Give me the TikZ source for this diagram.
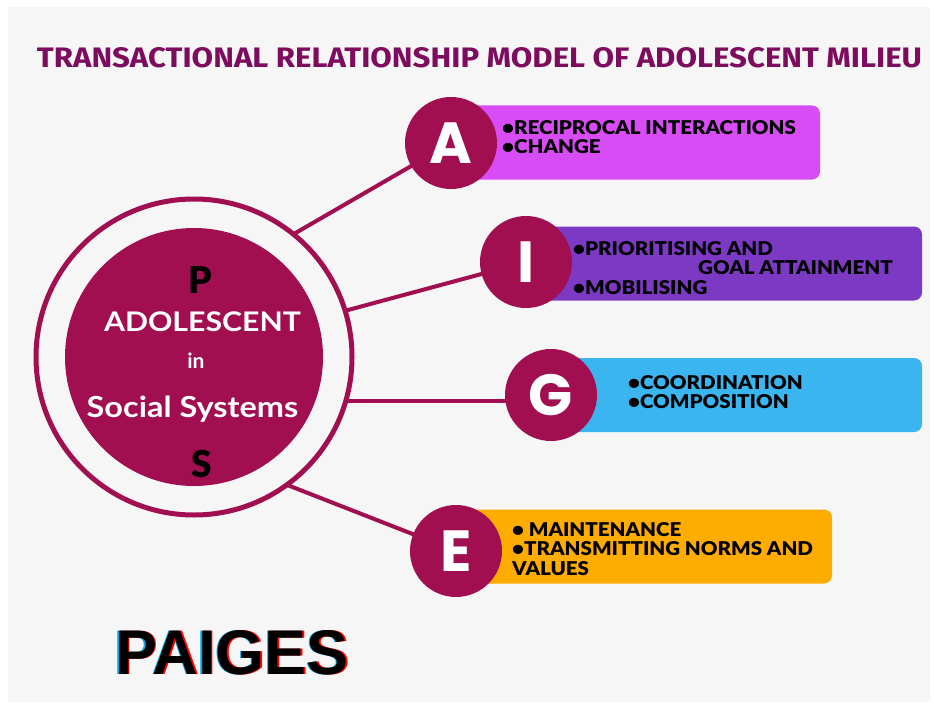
\documentclass[tikz,border=0pt]{standalone}
\usepackage{fontspec}
\usepackage{graphicx}
\setmainfont{Lato}
\newfontfamily\heavyfont{Lato Black}
\newfontfamily\itemfont{Lato Black}[FakeStretch=1.08]
\newfontfamily\headfont{Fira Sans}
\newfontfamily\letterfont{Poppins}
\newfontfamily\brandfont{Liberation Sans}
\usetikzlibrary{positioning,calc}

\definecolor{berry}{HTML}{A10F50}
\definecolor{plum}{HTML}{7E0C5E}
\definecolor{paper}{HTML}{F6F6F6}
\definecolor{adaptFill}{HTML}{D84CF5}
\definecolor{integFill}{HTML}{7C3AC4}
\definecolor{goalFill}{HTML}{3AB5EF}
\definecolor{maintFill}{HTML}{FFAC00}

\begin{document}
\begin{tikzpicture}[x=1pt,y=-1pt,
    sat/.style={circle, fill=berry, minimum size=92pt, inner sep=0pt, outer sep=0pt,
        text=white, font=\letterfont\bfseries\fontsize{58}{58}\selectfont},
    band/.style={rounded corners=8pt, minimum height=74pt, anchor=west, inner sep=0pt, outer sep=0pt},
    item/.style={anchor=north west, align=left, inner sep=0pt, font=\itemfont\fontsize{19}{19.5}\selectfont},
    link/.style={berry, line width=4pt},
    brand/.style={font=\brandfont\bfseries\fontsize{63}{63}\selectfont}]

    % page and grey sheet
    \fill[white] (0,0) rectangle (934,706);
    \fill[paper] (8,7) rectangle (930,702);

    % heading
    \node[text=plum, font=\headfont\bfseries, inner sep=0pt] (title) at (479.5,58)
        {\resizebox{885pt}{20pt}{TRANSACTIONAL RELATIONSHIP MODEL OF ADOLESCENT MILIEU}};

    % centres of the four satellites
    \coordinate (ac) at (451,143);
    \coordinate (ic) at (526,262);
    \coordinate (gc) at (551,395);
    \coordinate (ec) at (456,551);

    % coloured bands behind the satellites
    \node[band, fill=adaptFill, minimum width=369pt] (aBox) at ($(ac)+(0,-0.5)$) {};
    \node[band, fill=integFill, minimum width=396pt] (iBox) at ($(ic)+(0,1.5)$) {};
    \node[band, fill=goalFill, minimum width=371pt] (gBox) at (gc) {};
    \node[band, fill=maintFill, minimum width=376pt] (eBox) at ($(ec)+(0,-4.5)$) {};

    % the adolescent in the middle
    \node[circle, draw=berry, line width=5pt, minimum size=316pt, inner sep=0pt, outer sep=0pt] (ring) at (194,357) {};
    \node[circle, fill=berry, minimum size=258pt, inner sep=0pt] (core) at (194,357) {};
    \node[font=\heavyfont\fontsize{37}{37}\selectfont, anchor=base] (pLetter) at (200,293) {P};
    \node[text=white, font=\bfseries\fontsize{27}{27}\selectfont, anchor=base] (adol) at (202.5,331) {\scalebox{1.12}[1]{ADOLESCENT}};
    \node[text=white, font=\bfseries\fontsize{21}{21}\selectfont, anchor=base] (inWord) at (196,368) {in};
    \node[text=white, font=\bfseries\fontsize{29}{29}\selectfont, anchor=base] (social) at (192.5,417) {\scalebox{1.12}[1]{Social Systems}};
    \node[font=\heavyfont\fontsize{37}{37}\selectfont, anchor=base] (sLetter) at (202,477) {S};

    % spokes
    \draw[link] (ring.51) -- (ac);
    \draw[link] (ring.17) -- (ic);
    \draw[link] (ring.-16) -- (ring.-16 -| gc);
    \draw[link] (ring.-54) -- (ec);

    % satellites
    \node[sat] (a) at (ac) {A};
    \node[sat] (i) at (ic) {I};
    \node[sat] (g) at (gc) {G};
    \node[sat] (e) at (ec) {E};

    % band texts
    \node[item] (aText) at (502,120) {•RECIPROCAL INTERACTIONS\\•CHANGE};
    \node[item] (iText) at (573,241) {•PRIORITISING AND\\\hspace*{125pt}GOAL ATTAINMENT\\•MOBILISING};
    \node[item] (gText) at (628,375) {•COORDINATION\\•COMPOSITION};
    \node[item] (eText) at (512,522) {• MAINTENANCE\\•TRANSMITTING NORMS AND\\VALUES};

    % name with a split-colour edge
    \node[brand] (brandName) at (232,652.5)
        {\rlap{\kern-1.5pt\color{cyan}PAIGES}\rlap{\kern1.5pt\color{red}PAIGES}PAIGES};
\end{tikzpicture}
\end{document}
